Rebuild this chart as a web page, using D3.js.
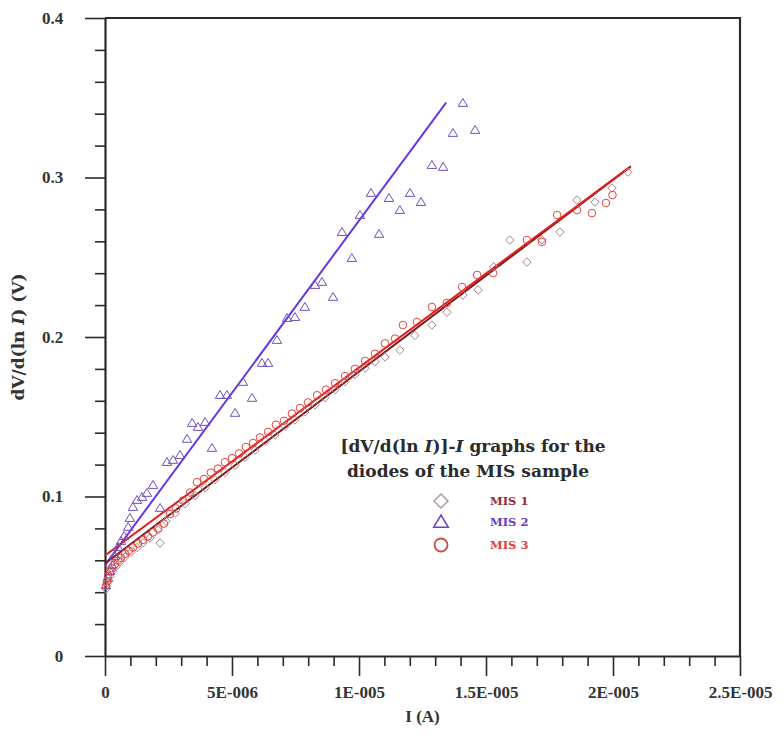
<!DOCTYPE html>
<html>
<head>
<meta charset="utf-8">
<script src="https://cdn.jsdelivr.net/npm/d3@7/dist/d3.min.js"></script>
<style>
  body { margin: 0; background: #fff; }
  svg text { font-family: "Liberation Serif", "DejaVu Serif", serif; font-weight: bold; }
  svg text.wide { font-family: "DejaVu Serif", serif; }
</style>
</head>
<body>
<div id="chart"></div>
<script>
// current in microamps, dV/d(ln I) in volts
const mis1Current = [0.04, 0.10, 0.20, 0.31, 0.43, 0.59, 0.79, 1.02, 1.26, 1.50, 1.77, 2.09, 2.17, 2.40, 2.76, 3.15, 3.54, 3.94, 4.33, 4.72, 5.12, 5.51, 5.91, 6.30, 6.69, 7.09, 7.48, 7.87, 8.27, 8.66, 9.06, 9.45, 9.84, 10.24, 10.63, 11.02, 11.61, 12.20, 12.87, 13.46, 14.09, 14.69, 15.30, 15.94, 16.61, 17.20, 17.91, 18.58, 19.29, 19.96, 20.59];
const mis1Value = [0.042, 0.046, 0.050, 0.053, 0.056, 0.059, 0.062, 0.065, 0.068, 0.071, 0.074, 0.079, 0.0708, 0.0845, 0.0895, 0.0955, 0.1005, 0.1055, 0.1105, 0.1150, 0.1195, 0.1245, 0.1290, 0.1345, 0.1385, 0.1440, 0.1480, 0.1530, 0.1575, 0.1620, 0.1670, 0.1720, 0.1765, 0.1805, 0.1845, 0.1875, 0.1918, 0.2010, 0.2075, 0.2155, 0.2263, 0.2295, 0.2440, 0.2608, 0.2470, 0.2610, 0.2658, 0.2859, 0.2846, 0.2934, 0.3034];

const mis2Current = [0.04, 0.12, 0.20, 0.28, 0.39, 0.51, 0.63, 0.75, 0.91, 0.98, 1.10, 1.26, 1.46, 1.65, 1.89, 2.17, 2.44, 2.68, 2.95, 3.23, 3.43, 3.66, 3.94, 4.21, 4.53, 4.80, 5.12, 5.43, 5.79, 6.18, 6.42, 6.77, 7.17, 7.48, 7.87, 8.27, 8.54, 8.98, 9.33, 9.72, 10.04, 10.47, 10.79, 11.18, 11.61, 12.01, 12.44, 12.87, 13.31, 13.70, 14.09, 14.57];
const mis2Value = [0.0445, 0.0489, 0.0533, 0.0571, 0.0627, 0.0683, 0.0721, 0.0752, 0.0809, 0.0865, 0.0934, 0.0978, 0.0997, 0.1022, 0.1072, 0.0928, 0.1216, 0.1229, 0.1260, 0.1361, 0.1461, 0.1436, 0.1467, 0.1304, 0.1636, 0.1636, 0.1524, 0.1718, 0.1618, 0.1837, 0.1837, 0.1981, 0.2119, 0.2125, 0.2188, 0.2326, 0.2345, 0.2251, 0.2658, 0.2495, 0.2765, 0.2903, 0.2646, 0.2871, 0.2796, 0.2903, 0.2846, 0.3078, 0.3066, 0.3279, 0.3467, 0.3298];

const mis3Current = [0.04, 0.08, 0.12, 0.20, 0.28, 0.39, 0.51, 0.63, 0.79, 0.94, 1.10, 1.30, 1.50, 1.69, 1.89, 2.09, 2.32, 2.56, 2.80, 3.07, 3.35, 3.62, 3.90, 4.17, 4.45, 4.72, 5.00, 5.28, 5.55, 5.83, 6.10, 6.42, 6.73, 7.05, 7.36, 7.68, 7.99, 8.35, 8.70, 9.06, 9.45, 9.84, 10.24, 10.63, 11.02, 11.42, 11.73, 12.28, 12.87, 13.46, 14.06, 14.65, 15.28, 16.61, 17.20, 17.80, 18.58, 19.17, 19.72, 19.98];
const mis3Value = [0.0440, 0.0470, 0.0500, 0.0530, 0.0550, 0.0575, 0.0598, 0.0615, 0.0640, 0.0660, 0.0680, 0.0705, 0.0728, 0.0750, 0.0775, 0.0800, 0.0830, 0.0890, 0.0925, 0.0975, 0.1025, 0.1090, 0.1110, 0.1150, 0.1175, 0.1215, 0.1240, 0.1270, 0.1310, 0.1335, 0.1370, 0.1405, 0.1450, 0.1475, 0.1520, 0.1555, 0.1590, 0.1635, 0.1670, 0.1710, 0.1755, 0.1800, 0.1850, 0.1895, 0.1960, 0.1990, 0.2075, 0.2094, 0.2188, 0.2213, 0.2313, 0.2389, 0.2401, 0.2608, 0.2596, 0.2765, 0.2796, 0.2777, 0.2840, 0.2890];

// linear fits: [current, value] at both ends
const fitMIS1 = [[0, 0.058], [20.7, 0.307]];
const fitMIS2 = [[0, 0.057], [13.43, 0.347]];
const fitMIS3 = [[0, 0.063], [20.7, 0.307]];

const xTickValues = [0, 5, 10, 15, 20, 25];
const xTickLabels = ["0", "5E-006", "1E-005", "1.5E-005", "2E-005", "2.5E-005"];
const yTickValues = [0, 0.1, 0.2, 0.3, 0.4];
const yTickLabels = ["0", "0.1", "0.2", "0.3", "0.4"];
const legendNames = ["MIS 1", "MIS 2", "MIS 3"];

const width = 784, height = 740;
const margin = { top: 18, right: 44, bottom: 84, left: 105 };

const svg = d3.select("#chart").append("svg")
    .attr("width", width)
    .attr("height", height);

const x = d3.scaleLinear().domain([0, 25]).range([margin.left, width - margin.right]);
const y = d3.scaleLinear().domain([0, 0.4]).range([height - margin.bottom, margin.top]);

const axisColor = "#2b2b2b";

// minor ticks
const xMinor = d3.range(0, 25.01, 1).filter(v => v % 5 !== 0);
const yMinor = d3.range(0, 0.401, 0.02).filter(v => Math.abs(v * 10 - Math.round(v * 10)) > 1e-6);

svg.append("g")
    .attr("transform", `translate(0,${y(0)})`)
    .call(d3.axisBottom(x).tickValues(xMinor).tickSize(10).tickFormat(""))
    .call(g => g.select(".domain").remove());
svg.append("g")
    .attr("transform", `translate(${x(0)},0)`)
    .call(d3.axisLeft(y).tickValues(yMinor).tickSize(10).tickFormat(""))
    .call(g => g.select(".domain").remove());

const xAxis = svg.append("g")
    .attr("transform", `translate(0,${y(0)})`)
    .call(d3.axisBottom(x).tickValues(xTickValues).tickSize(20).tickSizeOuter(0)
        .tickFormat((d, i) => xTickLabels[i]));
xAxis.selectAll("text").attr("dy", "1.1em").style("font-size", "17px");

const yAxis = svg.append("g")
    .attr("transform", `translate(${x(0)},0)`)
    .call(d3.axisLeft(y).tickValues(yTickValues).tickSize(20).tickSizeOuter(0)
        .tickFormat((d, i) => yTickLabels[i]));
yAxis.selectAll("text").attr("dx", "-1.1em").style("font-size", "17px");

svg.selectAll(".tick line").attr("stroke", axisColor).attr("stroke-width", 1.6);
svg.selectAll(".domain").attr("stroke", axisColor).attr("stroke-width", 2.2);
svg.selectAll(".tick text").attr("fill", "#333");

// top and right frame
svg.append("path")
    .attr("d", `M${x(0)},${y(0.4)}H${x(25)}V${y(0)}`)
    .attr("fill", "none")
    .attr("stroke", axisColor)
    .attr("stroke-width", 2.2);

// axis titles
svg.append("text")
    .attr("x", (x(0) + x(25)) / 2)
    .attr("y", 722)
    .attr("text-anchor", "middle")
    .style("font-size", "17px")
    .attr("fill", "#333")
    .text("I (A)");

const yTitle = svg.append("text")
    .attr("class", "wide")
    .attr("transform", `translate(24,${(y(0) + y(0.4)) / 2}) rotate(-90)`)
    .attr("text-anchor", "middle")
    .style("font-size", "17px")
    .attr("fill", "#333");
yTitle.append("tspan").text("dV/d(ln ");
yTitle.append("tspan").style("font-style", "italic").text("I");
yTitle.append("tspan").text(") (V)");

// fit lines
const line = d3.line().x(d => x(d[0])).y(d => y(d[1]));

svg.append("path").datum(fitMIS2).attr("d", line)
    .attr("fill", "none").attr("stroke", "#6a35e0").attr("stroke-width", 2);
svg.append("path").datum(fitMIS1).attr("d", line)
    .attr("fill", "none").attr("stroke", "#7a1c1c").attr("stroke-width", 2);
svg.append("path").datum(fitMIS3).attr("d", line)
    .attr("fill", "none").attr("stroke", "#e21d1d").attr("stroke-width", 2);

// marker shapes
function diamond(r) { return `M0,${-r}L${r},0L0,${r}L${-r},0Z`; }
function triangle(r) { return `M0,${-r}L${r * 1.05},${r * 0.75}L${-r * 1.05},${r * 0.75}Z`; }

svg.append("g").selectAll("path")
    .data(d3.zip(mis1Current, mis1Value))
    .join("path")
    .attr("transform", d => `translate(${x(d[0])},${y(d[1])})`)
    .attr("d", diamond(4.2))
    .attr("fill", "none")
    .attr("stroke", "#a98585")
    .attr("stroke-width", 1);

svg.append("g").selectAll("path")
    .data(d3.zip(mis2Current, mis2Value))
    .join("path")
    .attr("transform", d => `translate(${x(d[0])},${y(d[1])})`)
    .attr("d", triangle(4.5))
    .attr("fill", "none")
    .attr("stroke", "#6e52b8")
    .attr("stroke-width", 1);

svg.append("g").selectAll("circle")
    .data(d3.zip(mis3Current, mis3Value))
    .join("circle")
    .attr("cx", d => x(d[0]))
    .attr("cy", d => y(d[1]))
    .attr("r", 3.8)
    .attr("fill", "none")
    .attr("stroke", "#e8433f")
    .attr("stroke-width", 1);

// annotation
const note = svg.append("text")
    .attr("class", "wide")
    .attr("x", 473)
    .attr("y", 452)
    .attr("text-anchor", "middle")
    .style("font-size", "17px")
    .attr("fill", "#2b2b2b");
note.append("tspan").text("[dV/d(ln ");
note.append("tspan").style("font-style", "italic").text("I");
note.append("tspan").text(")]-");
note.append("tspan").style("font-style", "italic").text("I");
note.append("tspan").text(" graphs for the");
svg.append("text")
    .attr("class", "wide")
    .attr("x", 468)
    .attr("y", 477)
    .attr("text-anchor", "middle")
    .style("font-size", "17px")
    .attr("fill", "#2b2b2b")
    .text("diodes of the MIS sample");

// legend
const legendColors = ["#9b2a35", "#6a3cc8", "#e2403a"];
const legendY = [501, 522, 545];
const legend = svg.append("g");
legend.append("path")
    .attr("transform", `translate(441,${legendY[0]})`)
    .attr("d", diamond(7))
    .attr("fill", "none").attr("stroke", "#b59a9a").attr("stroke-width", 1.5);
legend.append("path")
    .attr("transform", `translate(441,${legendY[1]})`)
    .attr("d", triangle(7))
    .attr("fill", "none").attr("stroke", "#6a45c0").attr("stroke-width", 1.5);
legend.append("circle")
    .attr("cx", 441).attr("cy", legendY[2]).attr("r", 6.5)
    .attr("fill", "none").attr("stroke", "#c9503e").attr("stroke-width", 1.8);
legend.selectAll("text")
    .data(legendNames)
    .join("text")
    .attr("class", "wide")
    .attr("x", 490)
    .attr("y", (d, i) => legendY[i])
    .attr("dy", "0.35em")
    .style("font-size", "11.5px")
    .attr("fill", (d, i) => legendColors[i])
    .text(d => d);
</script>
</body>
</html>
